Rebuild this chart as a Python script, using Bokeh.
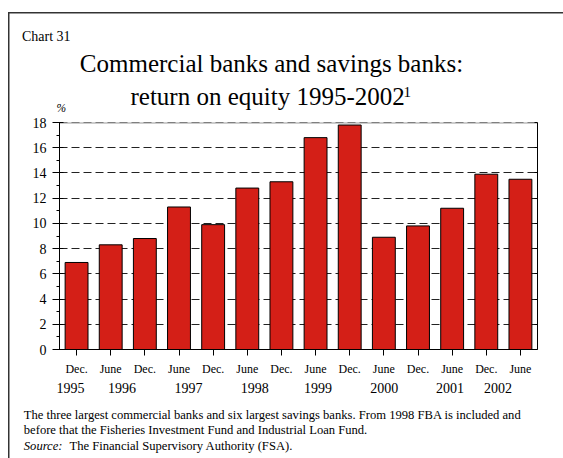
from bokeh.plotting import figure
from bokeh.models import (Label, Span, LinearAxis, FixedTicker,
                          Range1d, ColumnDataSource, CustomJSTickFormatter)
from bokeh.embed import file_html
from bokeh.resources import INLINE

# ---- data ----
periods = ["Dec.", "June", "Dec.", "June", "Dec.", "June", "Dec.",
           "June", "Dec.", "June", "Dec.", "June", "Dec.", "June"]
roe = [6.9, 8.3, 8.8, 11.3, 9.9, 12.8, 13.3, 16.8, 17.8, 8.9, 9.8, 11.2, 13.9, 13.5]
years = ["1995", "1996", "1997", "1998", "1999", "2000", "2001", "2002"]
y_ticks = [0, 2, 4, 6, 8, 10, 12, 14, 16, 18]
y_minor = [1, 3, 5, 7, 9, 11, 13, 15, 17]

# ---- layout (page pixels) ----
W, H = 563, 458
FL, FR, FT, FB = 59, 537, 122, 349
X0, X1 = -0.5, 13.5
Y0, Y1 = 0, 18
year_pos = [-0.18, 1.33, 3.28, 5.22, 7.07, 9.01, 10.94, 12.34]

FONT = "Liberation Serif"
RED = "#d41f17"
BASE_K = 0.44   # baseline correction (fraction of font size)


def dx(px):
    return X0 + (px - FL) * (X1 - X0) / (FR - FL)


def dy(py):
    return Y0 + (FB - py) * (Y1 - Y0) / (FB - FT)


p = figure(width=W, height=H, x_range=Range1d(X0, X1), y_range=Range1d(Y0, Y1),
           output_backend="svg", toolbar_location=None,
           min_border_left=FL, min_border_right=W - FR,
           min_border_top=FT, min_border_bottom=H - FB)
p.title_location = None
p.outline_line_color = None
p.background_fill_color = "white"
p.border_fill_color = None
p.styles = {"background": "linear-gradient(#333333, #333333) 8px 12px / 1.5px 100% no-repeat, "
                          "linear-gradient(#333333, #333333) 8px 12px / 100% 1.5px no-repeat, #ffffff"}

# grid
p.xgrid.visible = False
p.ygrid.ticker = FixedTicker(ticks=y_ticks)
p.ygrid.grid_line_color = "#222222"
p.ygrid.grid_line_dash = "8 4"
p.ygrid.grid_line_width = 1

p.add_layout(Span(location=18, dimension="width", line_color="#9a9a9a",
                  line_width=2, level="underlay"))
p.add_layout(Span(location=18, dimension="width", line_color="#333333",
                  line_width=1, line_dash="8 4", level="underlay"))

# y axis
ya = p.yaxis[0]
ya.ticker = FixedTicker(ticks=y_ticks, minor_ticks=y_minor)
ya.axis_line_color = "black"
ya.major_tick_line_color = "black"
ya.minor_tick_line_color = "black"
ya.major_tick_in = 4
ya.major_tick_out = 7
ya.minor_tick_in = 0
ya.minor_tick_out = 3
ya.major_label_standoff = 6
ya.major_label_text_font = FONT
ya.major_label_text_font_size = "14px"
ya.major_label_text_color = "black"

# right axis
ra = LinearAxis(ticker=FixedTicker(ticks=y_ticks, minor_ticks=[]),
                formatter=CustomJSTickFormatter(code="return ''"))
ra.axis_line_color = "black"
ra.major_tick_line_color = "black"
ra.major_tick_in = 3
ra.major_tick_out = 0
ra.major_label_standoff = 0
ra.minor_tick_line_color = None
p.add_layout(ra, "right")

# x axis (periods)
xa = p.xaxis[0]
xa.ticker = FixedTicker(ticks=list(range(len(periods))), minor_ticks=[])
xa.major_label_overrides = {i: s for i, s in enumerate(periods)}
xa.axis_line_color = "black"
xa.major_tick_line_color = "black"
xa.minor_tick_line_color = None
xa.major_tick_in = 0
xa.major_tick_out = 6
xa.major_label_standoff = 6
xa.major_label_text_font = FONT
xa.major_label_text_font_size = "12px"
xa.major_label_text_color = "black"

# second x axis (years)
yr_axis = LinearAxis(ticker=FixedTicker(ticks=year_pos, minor_ticks=[]))
yr_axis.major_label_overrides = {xp: y for xp, y in zip(year_pos, years)}
yr_axis.axis_line_color = None
yr_axis.major_tick_line_color = None
yr_axis.minor_tick_line_color = None
yr_axis.major_tick_in = 0
yr_axis.major_tick_out = 0
yr_axis.major_label_standoff = 4
yr_axis.major_label_text_font = FONT
yr_axis.major_label_text_font_size = "14px"
yr_axis.major_label_text_color = "black"
p.add_layout(yr_axis, "below")

# bars
src = ColumnDataSource(dict(x=list(range(len(roe))), top=roe))
p.vbar(x="x", top="top", bottom=0, width=0.67, source=src,
       fill_color=RED, line_color="black", line_width=1)


def lab(text, px, py, size, place, align="left", style="normal"):
    fs = float(size.replace("px", ""))
    p.add_layout(Label(x=dx(px), y=dy(py - BASE_K * fs), text=text, text_font=FONT,
                       text_font_size=size, text_align=align,
                       text_baseline="alphabetic", text_color="black",
                       text_font_style=style), place)


lab("Chart 31", 21.5, 41.7, "14px", "above")
lab("Commercial banks and savings banks:", 271, 74, "25px", "above", align="center")
lab("return on equity 1995-2002", 130, 106.7, "25px", "above")
lab("1", 403, 98.5, "15px", "above")
lab("%", 56, 112.5, "11.5px", "left", style="italic")

FS = "12.6px"
lab("The three largest commercial banks and six largest savings banks. From 1998 FBA is included and",
    23.3, 420.5, FS, "below")
lab("before that the Fisheries Investment Fund and Industrial Loan Fund.", 23.3, 435.5, FS, "below")
lab("Source:", 23.3, 451, FS, "below", style="italic")
lab("The Financial Supervisory Authority (FSA).", 69, 451, FS, "below")

open("out.html", "w").write(file_html(p, INLINE))
